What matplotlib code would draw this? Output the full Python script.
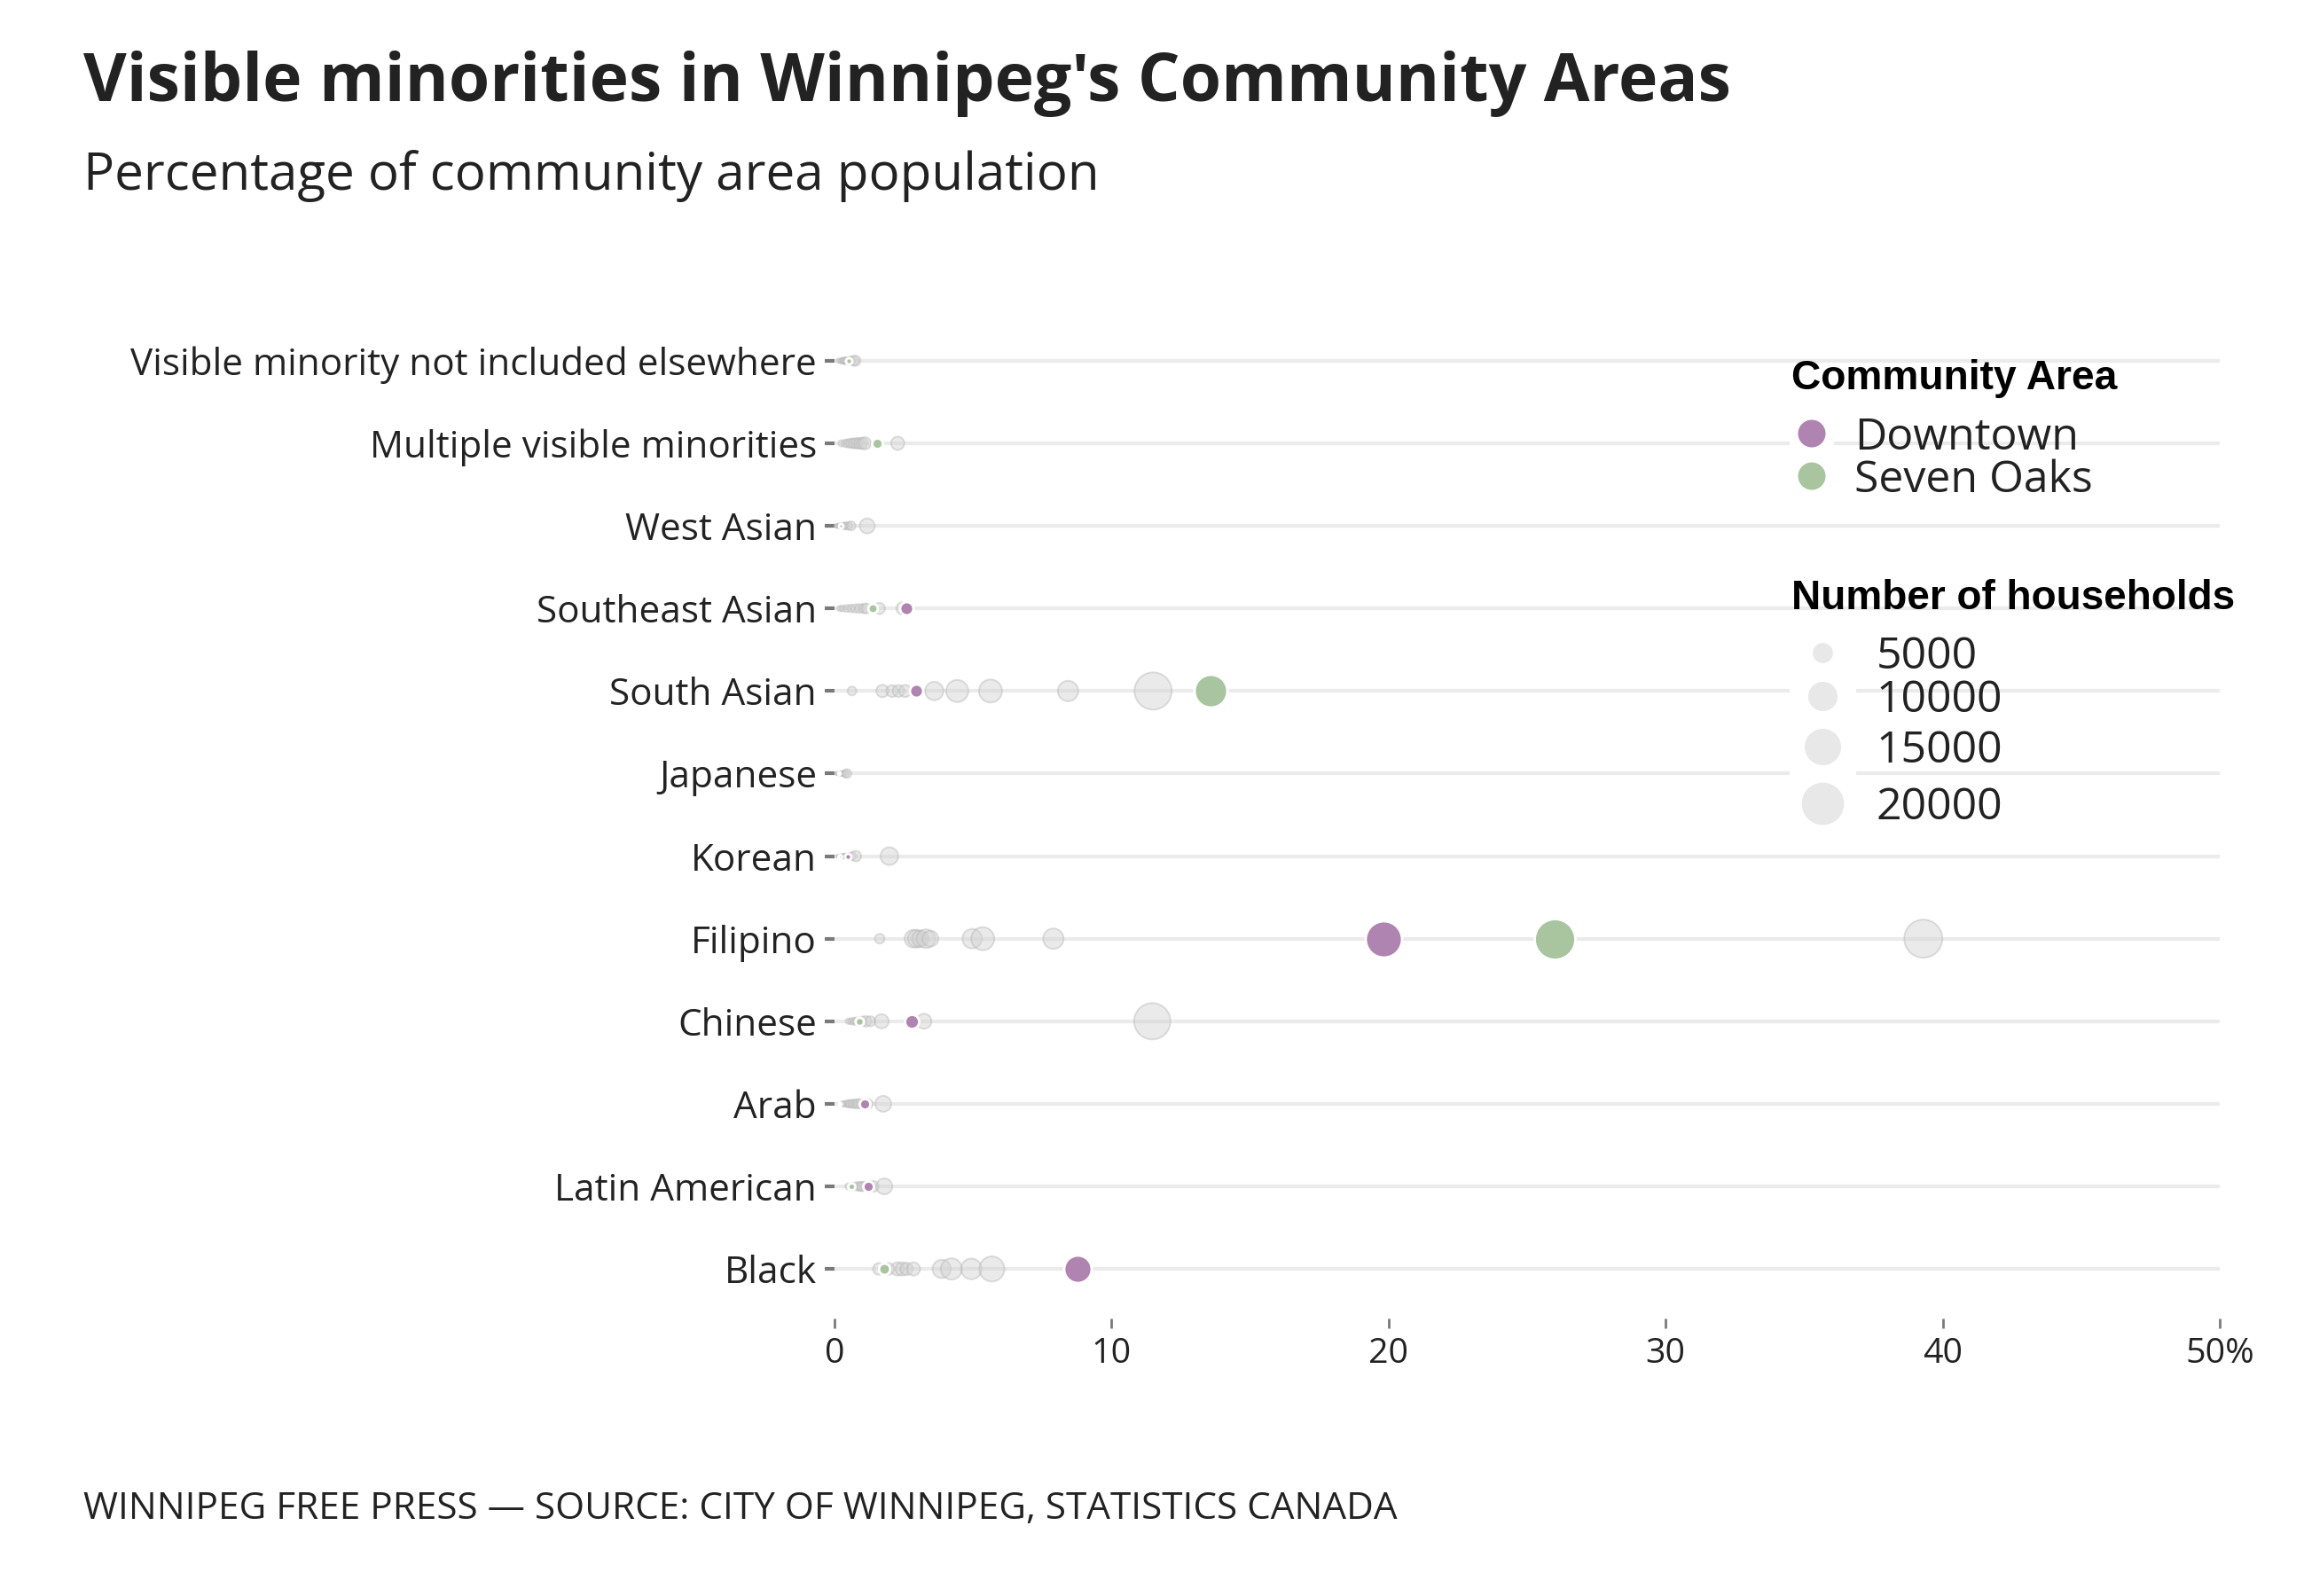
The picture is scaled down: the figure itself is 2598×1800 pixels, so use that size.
import numpy as np
import matplotlib
matplotlib.use("Agg")
import matplotlib.pyplot as plt
from matplotlib.patches import Rectangle

# ---------------- data ----------------
categories = [
    "Visible minority not included elsewhere",
    "Multiple visible minorities",
    "West Asian",
    "Southeast Asian",
    "South Asian",
    "Japanese",
    "Korean",
    "Filipino",
    "Chinese",
    "Arab",
    "Latin American",
    "Black",
]

# other community areas (grey), percent of population
other_pct = [
    [0.15, 0.25, 0.30, 0.35, 0.40, 0.45, 0.55, 0.60, 0.70, 0.75],
    [0.25, 0.40, 0.50, 0.60, 0.70, 0.80, 0.90, 1.00, 1.10, 2.28],
    [0.05, 0.10, 0.15, 0.20, 0.28, 0.35, 0.40, 0.50, 0.60, 1.18],
    [0.20, 0.30, 0.45, 0.60, 0.75, 0.90, 1.05, 1.15, 1.62, 2.45],
    [0.63, 1.73, 2.08, 2.31, 2.55, 3.60, 4.43, 5.63, 8.43, 11.5],
    [0.05, 0.10, 0.12, 0.18, 0.22, 0.25, 0.30, 0.35, 0.40, 0.45],
    [0.10, 0.15, 0.25, 0.30, 0.35, 0.40, 0.55, 0.65, 0.77, 1.98],
    [1.63, 2.85, 2.97, 3.10, 3.30, 3.46, 4.97, 5.35, 7.90, 39.3],
    [0.50, 0.60, 0.70, 0.80, 1.00, 1.14, 1.30, 1.70, 3.23, 11.47],
    [0.30, 0.40, 0.50, 0.55, 0.65, 0.75, 0.85, 0.95, 1.20, 1.76],
    [0.50, 0.65, 0.75, 0.86, 0.95, 1.00, 1.10, 1.30, 1.40, 1.80],
    [1.60, 1.95, 2.27, 2.44, 2.60, 2.85, 3.87, 4.22, 4.94, 5.68],
]
other_n = [
    [200, 300, 350, 400, 500, 450, 600, 700, 900, 1100],
    [400, 600, 700, 900, 1000, 1100, 1200, 1300, 1500, 1800],
    [100, 150, 200, 250, 300, 400, 500, 600, 800, 2300],
    [300, 400, 500, 600, 700, 800, 900, 1000, 1300, 1500],
    [800, 1570, 1420, 1420, 1500, 3420, 5000, 5400, 4230, 14100],
    [50, 80, 100, 120, 150, 200, 250, 300, 500, 800],
    [60, 100, 150, 200, 250, 300, 400, 600, 1150, 3200],
    [970, 3200, 3200, 2800, 3530, 2600, 3870, 5400, 4230, 14800],
    [300, 400, 500, 600, 900, 1150, 1000, 2050, 2300, 13450],
    [300, 400, 500, 600, 700, 800, 900, 900, 1000, 2600],
    [400, 500, 600, 800, 800, 900, 900, 1000, 1200, 2600],
    [1400, 1420, 1800, 1800, 1600, 1800, 3420, 4600, 4350, 6400],
]

downtown_pct = [np.nan, np.nan, np.nan, 2.60, 2.93, np.nan, 0.48, 19.8, 2.78, 1.09, 1.22, 8.77]
downtown_n = [0, 0, 0, 1800, 1800, 0, 400, 13450, 2050, 1150, 1150, 7700]
sevenoaks_pct = [0.51, 1.53, 0.22, 1.38, 13.56, 0.16, 0.20, 26.0, 0.90, 0.19, 0.60, 1.79]
sevenoaks_n = [400, 1150, 200, 910, 10950, 70, 130, 16900, 700, 70, 510, 1290]

x_ticks = [0, 10, 20, 30, 40, 50]
x_tick_labels = ["0", "10", "20", "30", "40", "50%"]
size_legend_values = [5000, 10000, 15000, 20000]
area_names = ["Downtown", "Seven Oaks"]

# ---------------- style ----------------
PURPLE = "#b084b0"
GREEN = "#a8c5a0"
W, H, DPI = 2598, 1800, 200
SCALE = 324.0 / 20000.0  # marker area (pt^2) per household


def size(v):
    return np.asarray(v, dtype=float) * SCALE


fig = plt.figure(figsize=(W / DPI, H / DPI), dpi=DPI)
fig.patch.set_facecolor("white")


def fx(px):
    return px / W


def fy(py):
    return 1 - py / H


ax = fig.add_axes([fx(941), fy(1487), fx(2503) - fx(941), fy(351) - fy(1487)])
ax.set_xlim(0, 50)
ax.set_ylim(-0.6, len(categories) - 0.4)
for sp in ax.spines.values():
    sp.set_visible(False)
ax.set_facecolor("white")

ys = np.arange(len(categories))[::-1]
ax.hlines(ys, 0, 50, color="#ebebeb", lw=1.5, zorder=0)

for y, p, n in zip(ys, other_pct, other_n):
    ax.scatter(p, [y] * len(p), s=size(n), facecolor="#d2d2d2", alpha=0.45,
               edgecolor="#b8b8b8", linewidth=0.7, zorder=2, clip_on=False)

for y, p, n in zip(ys, sevenoaks_pct, sevenoaks_n):
    if not np.isnan(p):
        ax.scatter([p], [y], s=size(n), facecolor=GREEN, edgecolor="white",
                   linewidth=1.0, zorder=3, clip_on=False)
for y, p, n in zip(ys, downtown_pct, downtown_n):
    if not np.isnan(p):
        ax.scatter([p], [y], s=size(n), facecolor=PURPLE, edgecolor="white",
                   linewidth=1.0, zorder=4, clip_on=False)

ax.set_yticks(ys)
ax.set_yticklabels(categories, fontfamily="Open Sans", fontsize=15.2, color="#222222")
ax.set_xticks(x_ticks)
ax.set_xticklabels(x_tick_labels, fontfamily="Open Sans", fontsize=14.2, color="#222222")
ax.tick_params(axis="y", length=4, width=1.5, color="#7a7a7a", pad=3.2)
ax.tick_params(axis="x", length=4, width=1.0, color="#7a7a7a", pad=3.5)

# ---------------- titles ----------------
fig.text(fx(94), fy(114), "Visible minorities in Winnipeg's Community Areas",
         fontfamily="Open Sans", fontweight="bold", fontsize=27, color="#222222",
         va="baseline", ha="left")
fig.text(fx(94), fy(214), "Percentage of community area population",
         fontfamily="Open Sans", fontsize=21, color="#222222", va="baseline", ha="left")
fig.text(fx(94), fy(1713),
         "WINNIPEG FREE PRESS \u2014 SOURCE: CITY OF WINNIPEG, STATISTICS CANADA",
         fontfamily="Open Sans", fontsize=15.2, color="#222222", va="baseline", ha="left")

# ---------------- legend (overlay in pixel coords) ----------------
lax = fig.add_axes([0, 0, 1, 1])
lax.set_xlim(0, W)
lax.set_ylim(H, 0)
lax.axis("off")

lax.add_patch(Rectangle((2018, 458), 50, 100, facecolor="white", edgecolor="none", zorder=1))
lax.add_patch(Rectangle((2018, 695), 75, 240, facecolor="white", edgecolor="none", zorder=1))

lax.text(2020, 439, "Community Area", fontfamily="Liberation Sans", fontweight="bold",
         fontsize=16.6, color="black", va="baseline", ha="left")
for yy, c, name in zip([489, 537], [PURPLE, GREEN], area_names):
    lax.scatter([2043], [yy], s=125, facecolor=c, edgecolor="none", zorder=3)
    lax.text(2091, yy + 18, name, fontfamily="Open Sans", fontsize=18, color="#222222",
             va="baseline", ha="left", zorder=3)

lax.text(2020, 687, "Number of households", fontfamily="Liberation Sans", fontweight="bold",
         fontsize=16.5, color="black", va="baseline", ha="left")
for yy, v in zip([736, 785, 842, 906], size_legend_values):
    lax.scatter([2055], [yy], s=size(v), facecolor="#e8e8e8", edgecolor="white",
                linewidth=0.8, zorder=3)
    lax.text(2116, yy + 18, str(v), fontfamily="Open Sans", fontsize=18, color="#222222",
             va="baseline", ha="left", zorder=3)

fig.savefig("out.png", dpi=DPI, facecolor="white")
